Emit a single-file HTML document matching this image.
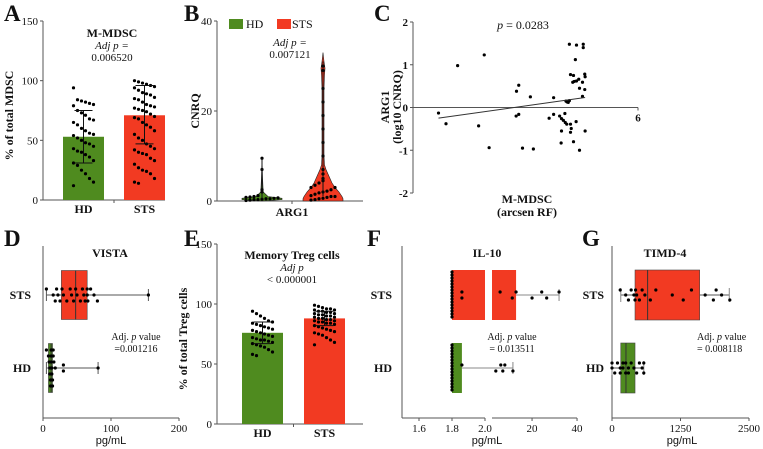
<!DOCTYPE html>
<html><head><meta charset="utf-8">
<style>
html,body{margin:0;padding:0;background:#fff;width:763px;height:449px;overflow:hidden}
svg{display:block;font-family:"Liberation Serif",serif}
.sans{font-family:"Liberation Sans",sans-serif}
</style></head>
<body>
<svg id="fig" width="763" height="449" viewBox="0 0 763 449"></svg>
<script>
// ---------- DATA ----------
const barCats = ['HD','STS'];
const A_means = [53, 71];
const A_errLo = [31, 47];
const A_errHi = [75, 96];
const A_HD = [94,84,83,82,81,80,79,75,73,71,68,67,65,63,60,58,56,55,54,52,50,48,47,45,43,41,40,38,36,33,31,29,25,22,18,15,12];
const A_STS = [100,99,98,97,96,95,94,92,90,89,88,86,85,84,82,80,79,78,77,76,75,74,72,70,69,68,65,63,61,58,55,52,50,47,45,43,42,40,39,38,35,33,30,27,25,24,22,18,15,14];
const A_ticks = [0,50,100,150];

const B_ticks = [0,20,40];
const B_HD_levels = [0,0.3,0.6,1,2,5,9.5];
const B_HD_width = [0,20,20,6,1.2,0.6,0];
const B_STS_levels = [0,0.5,1,2,3,4,5,6,7,8,10,15,20,25,28,29.5,31,33];
const B_STS_width = [20,20,19,16,12,9,7,5,3,1.5,1,1,1,1,1.5,2,1,0];
const B_HD_pts = [0.1,0.2,0.3,0.3,0.4,0.5,0.5,0.6,0.7,0.8,0.9,1,1.2,2,2.5,7,9.5];
const B_STS_pts = [0.2,0.3,0.5,0.6,0.8,1,1,1.2,1.5,1.8,2,2.2,2.5,3,3,3.5,4,4.5,5,6,7,10,13,16,19,22,25,29,30];

const C_x = [0.68,0.88,1.19,1.75,1.90,2.03,2.76,2.82,2.75,2.82,2.92,3.13,3.21,3.63,3.75,3.75,3.91,3.95,3.96,4.01,3.96,4.05,4.06,4.08,4.11,4.14,4.17,4.10,4.20,4.22,4.20,4.28,4.35,4.17,4.20,4.28,4.26,4.30,4.36,4.33,4.36,4.42,4.44,4.44,4.52,4.52,4.54,4.54,4.58,4.59,4.58,4.59];
const C_y = [-0.13,-0.38,0.98,-0.43,1.23,-0.94,0.38,0.52,-0.20,-0.16,-0.95,0.25,-0.97,-0.25,0.23,-0.16,-0.20,-0.83,-0.26,-0.30,-0.55,-0.14,-0.35,0.15,0.13,0.12,0.16,-0.39,-0.39,-0.49,-0.58,-0.80,-0.33,1.48,0.77,0.75,0.59,0.61,1.46,1.12,0.62,0.66,0.45,-1.00,0.59,0.26,1.48,1.40,0.78,0.72,0.42,-0.55];
const C_yticks = [-2,-1,0,1,2];

// box plots: [HD, STS]
const D_q1=[8,27], D_med=[12,48], D_q3=[14,65], D_min=[5,5], D_max=[81,155];
const D_HD=[5,8,9,10,10,11,11,12,12,12,13,13,14,14,15,15,16,18,30,30,81];
const D_STS=[5,15,18,20,22,25,28,30,35,40,42,45,48,50,55,58,60,62,65,65,66,70,75,80,155];
const D_ticks=[0,100,200];

const E_means=[76,88], E_errLo=[67,82], E_errHi=[85,94];
const E_HD=[94,92,90,88,86,85,84,83,82,81,80,79,78,77,76,75,74,73,72,71,70,70,69,68,67,66,65,64,62,60,58,57];
const E_STS=[99,98,97,96,96,95,95,94,94,93,93,92,92,91,91,90,90,89,89,88,88,87,87,86,86,85,85,84,84,83,82,81,80,79,78,77,76,75,74,72,70,68,66];

const F_q1=[1.8,1.8], F_q3=[1.86,12.9], F_max=[11.5,32];
const F_HD=[1.8,1.8,1.8,1.8,1.8,1.8,1.8,1.8,1.8,1.8,1.8,1.8,1.8,1.8,1.8,1.8,1.86,3.9,6.1,7.0,7.9,11.5];
const F_STS=[1.8,1.8,1.8,1.8,1.8,1.8,1.8,1.8,1.8,1.8,1.8,1.8,1.8,1.8,1.8,1.8,1.86,1.86,5.8,11.2,12.9,20,24.3,26.5,32];
const F_ticks1=[1.6,1.8,2.0], F_ticks2=[20,40];

const G_q1=[160,420], G_med=[255,650], G_q3=[420,1600], G_min=[0,160], G_max=[580,2140];
const G_HD=[0,0,50,100,150,150,200,200,250,250,300,300,350,400,450,500,550,580,580];
const G_STS=[150,250,300,350,400,420,430,450,500,550,600,700,800,1100,1300,1450,1700,1850,1900,2000,2150];
const G_ticks=[0,1250,2500];

// ---------- HELPERS ----------
const NS='http://www.w3.org/2000/svg';
const svg=document.getElementById('fig');
const RED='#f23a22', GREEN='#4f8b1f', AX='#555';
function mk(tag,attrs,name,parent){
  const e=document.createElementNS(NS,tag);
  for(const k in attrs) e.setAttribute(k,attrs[k]);
  
  
  (parent||svg).appendChild(e);
  return e;
}
function txt(x,y,s,name,o){
  o=o||{};
  const t=mk('text',{x:x,y:y,'font-size':o.size||11,'text-anchor':o.anchor||'middle','font-weight':o.bold?'bold':'normal','font-style':o.italic?'italic':'normal',fill:'#111'},name);
  if(o.sans) t.setAttribute('class','sans');
  if(o.rot) t.setAttribute('transform','rotate(-90 '+x+' '+y+')');
  t.textContent=s; return t;
}
function line(x1,y1,x2,y2,name,c,w){return mk('line',{x1:x1,y1:y1,x2:x2,y2:y2,stroke:c||AX,'stroke-width':w||1},name);}
function dot(x,y,name){return mk('circle',{cx:x,cy:y,r:1.6,fill:'#000'},name);}
function letter(x,y,s){txt(x,y,s,'panel-label-'+s.toLowerCase(),{size:23,bold:true,anchor:'start'});}

// ---------- BAR PANEL ----------
function barPanel(id,ax,y0,y150,xEnd,centers,means,lo,hi,pts,title,ylab){
  const sy=v=>y0-(v/150)*(y0-y150);
  line(ax,y150,ax,y0,id+'-y-axis');
  line(ax,y0,xEnd,y0,id+'-x-axis');
  line((centers[0]+centers[1])/2,y0,(centers[0]+centers[1])/2,y0+3,id+'-x-tick');
  A_ticks.forEach(t=>{line(ax-3,sy(t),ax,sy(t),id+'-y-tick');txt(ax-5,sy(t)+4,String(t),id+'-y-tick-label',{anchor:'end'});});
  txt(ax-30,(y0+y150)/2+5,ylab,id+'-y-axis-title',{rot:true,bold:true,size:12});
  const cols=[GREEN,RED];
  for(let i=0;i<2;i++){
    const cx=centers[i];
    mk('rect',{x:cx-20.5,y:sy(means[i]),width:41,height:y0-sy(means[i]),fill:cols[i]},id+'-bar-'+barCats[i].toLowerCase());
    pts[i].forEach((v,j)=>{dot(cx+((j%6)-2.5)*4,sy(v),id+'-point');});
    line(cx,sy(lo[i]),cx,sy(hi[i]),id+'-error-bar','#111');
    line(cx-9,sy(lo[i]),cx+9,sy(lo[i]),id+'-error-cap','#111');
    line(cx-9,sy(hi[i]),cx+9,sy(hi[i]),id+'-error-cap','#111');
    txt(cx,y0+13,barCats[i],id+'-x-label-'+barCats[i].toLowerCase(),{bold:true,size:12});
  }
}

// ---------- PANEL A ----------
letter(4,21,'A');
barPanel('a',43,200,21,165,[83.5,144.5],A_means,A_errLo,A_errHi,[A_HD,A_STS],'M-MDSC','% of total MDSC');
txt(112,37,'M-MDSC','a-title',{bold:true,size:12});
txt(112,49,'Adj p =','a-pvalue-label',{italic:true,size:11});
txt(112,61,'0.006520','a-pvalue',{size:11});

// ---------- PANEL B ----------
letter(184,21,'B');
(function(){
  const ax=217,y0=201,yt=21;
  const sy=v=>y0-v/40*(y0-yt);
  line(ax,yt,ax,y0,'b-y-axis');line(ax,y0,363,y0,'b-x-axis');line(292,y0,292,y0+3,'b-x-tick');
  B_ticks.forEach(t=>{line(ax-3,sy(t),ax,sy(t),'b-y-tick');txt(ax-5,sy(t)+4,String(t),'b-y-tick-label',{anchor:'end'});});
  txt(199,111,'CNRQ','b-y-axis-title',{rot:true,bold:true,size:12});
  txt(292,216,'ARG1','b-x-axis-title',{bold:true,size:12});
  function violin(cx,lev,wid,col,name){
    let d='M'+(cx+wid[0])+','+sy(lev[0]);
    for(let i=1;i<lev.length;i++) d+=' L'+(cx+wid[i])+','+sy(lev[i]);
    for(let i=lev.length-1;i>=0;i--) d+=' L'+(cx-wid[i])+','+sy(lev[i]);
    mk('path',{d:d+'Z',fill:col,stroke:'#222','stroke-width':0.6},name);
  }
  violin(262,B_HD_levels,B_HD_width,GREEN,'b-violin-hd');
  violin(323,B_STS_levels,B_STS_width,RED,'b-violin-sts');
  B_HD_pts.forEach((v,j)=>dot(262+(v<1.5?((j%9)-4)*4:0),sy(v),'b-point-hd'));
  B_STS_pts.forEach((v,j)=>dot(323+(v<5?((j%7)-3)*4:0),sy(v),'b-point-sts'));
  line(262,sy(0.5),262,sy(9.5),'b-whisker-hd','#111');
  line(323,sy(1),323,sy(31),'b-whisker-sts','#111');
  mk('rect',{x:229,y:19,width:14,height:10,fill:GREEN},'b-legend-swatch-hd');
  txt(246,28,'HD','b-legend-label-hd',{anchor:'start',size:12});
  mk('rect',{x:277,y:19,width:14,height:10,fill:RED},'b-legend-swatch-sts');
  txt(292,28,'STS','b-legend-label-sts',{anchor:'start',size:12});
  txt(290,46,'Adj p =','b-pvalue-label',{italic:true});
  txt(290,58,'0.007121','b-pvalue');
})();

// ---------- PANEL C ----------
letter(374,21,'C');
(function(){
  const ax=413,yTop=22,yBot=193;
  const sy=v=>yBot-(v+2)/4*(yBot-yTop);
  const sx=v=>ax+v/6*(638-ax);
  line(ax,yTop,ax,yBot,'c-y-axis');line(ax,sy(0),sx(6),sy(0),'c-x-axis');line(sx(6),sy(0),sx(6),sy(0)+3,'c-x-tick');
  txt(sx(6),sy(0)+14,'6','c-x-tick-label',{bold:true});
  C_yticks.forEach(t=>{line(ax-3,sy(t),ax,sy(t),'c-y-tick');txt(ax-5,sy(t)+4,String(t),'c-y-tick-label',{anchor:'end',bold:true});});
  C_x.forEach((v,i)=>dot(sx(v),sy(C_y[i]),'c-point'));
  const n=C_x.length,mx=C_x.reduce((a,b)=>a+b)/n,my=C_y.reduce((a,b)=>a+b)/n;
  let sxy=0,sxx=0;for(let i=0;i<n;i++){sxy+=(C_x[i]-mx)*(C_y[i]-my);sxx+=(C_x[i]-mx)**2;}
  const b=sxy/sxx,a=my-b*mx,x1=Math.min(...C_x),x2=Math.max(...C_x);
  line(sx(x1),sy(a+b*x1),sx(x2),sy(a+b*x2),'c-regression-line','#333');
  const p=txt(523,29,'','c-pvalue',{size:12});
  p.innerHTML='<tspan font-style="italic">p</tspan> = 0.0283';
  txt(389,107,'ARG1','c-y-axis-title',{rot:true,bold:true,size:12});
  txt(401,107,'(log10 CNRQ)','c-y-axis-title-2',{rot:true,bold:true,size:12});
  txt(527,203,'M-MDSC','c-x-axis-title',{bold:true,size:12});
  txt(527,216,'(arcsen RF)','c-x-axis-title-2',{bold:true,size:12});
})();

// ---------- BOX PANEL helper ----------
function rowY(i){return i===0?368:295;}
function boxAxes(id,ax,xEnd){line(ax,246,ax,418,id+'-y-axis');}

// ---------- PANEL D ----------
letter(4,246,'D');
(function(){
  const ax=43,sx=v=>ax+v*0.68;
  boxAxes('d',ax);line(ax,418,sx(200),418,'d-x-axis');
  D_ticks.forEach(t=>{line(sx(t),418,sx(t),421,'d-x-tick');txt(sx(t),432,String(t),'d-x-tick-label');});
  txt(111,444,'pg/mL','d-x-axis-title',{sans:true,size:11});
  txt(110,257,'VISTA','d-title',{bold:true,size:12});
  const cols=[GREEN,RED],pts=[D_HD,D_STS];
  for(let i=0;i<2;i++){
    const y=rowY(i),h=49;
    line(sx(D_min[i]),y,sx(D_max[i]),y,'d-whisker-'+barCats[i].toLowerCase());
    line(sx(D_max[i]),y-6,sx(D_max[i]),y+6,'d-whisker-cap');line(sx(D_min[i]),y-6,sx(D_min[i]),y+6,'d-whisker-cap');
    mk('rect',{x:sx(D_q1[i]),y:y-h/2,width:sx(D_q3[i])-sx(D_q1[i]),height:h,fill:cols[i],stroke:'#444','stroke-width':0.6},'d-box-'+barCats[i].toLowerCase());
    line(sx(D_med[i]),y-h/2,sx(D_med[i]),y+h/2,'d-median','#333');
    pts[i].forEach((v,j)=>{
      let oy;
      if(i===0) oy=(v<=20)?((j%7)-3)*6:((j%2)?-3:3);
      else oy=(v===D_max[i])?0:((j%3)-1)*6;
      if(v===D_max[i]) oy=0;
      dot(sx(v),y+oy,'d-point');
    });
    txt(ax-12,y+4,barCats[i],'d-y-label-'+barCats[i].toLowerCase(),{anchor:'end',bold:true,size:12});
  }
  const t=txt(136,340,'','d-pvalue-label',{size:10});t.innerHTML='Adj. <tspan font-style="italic">p</tspan> value';
  txt(136,352,'=0.001216','d-pvalue',{size:10});
})();

// ---------- PANEL E ----------
letter(184,246,'E');
barPanel('e',217,424,244,363,[262.5,324.5],E_means,E_errLo,E_errHi,[E_HD,E_STS],'','% of total Treg cells');
txt(292,259,'Memory Treg cells','e-title',{bold:true,size:12});
txt(292,271,'Adj p','e-pvalue-label',{italic:true});
txt(292,283,'< 0.000001','e-pvalue');

// ---------- PANEL F ----------
letter(367,246,'F');
(function(){
  const ax=402;
  const sx=v=>v<=2.0?402.5+(v-1.5)*165:Math.max(492,492+(v-2.2)*2.25);
  boxAxes('f',ax);line(ax,418,485,418,'f-x-axis-segment-1');line(492,418,577,418,'f-x-axis-segment-2');
  F_ticks1.forEach(t=>{line(sx(t),418,sx(t),421,'f-x-tick');txt(sx(t),432,t.toFixed(1),'f-x-tick-label');});
  F_ticks2.forEach(t=>{line(sx(t),418,sx(t),421,'f-x-tick');txt(sx(t),432,String(t),'f-x-tick-label');});
  txt(487,444,'pg/mL','f-x-axis-title',{sans:true});
  txt(487,257,'IL-10','f-title',{bold:true,size:12});
  const cols=[GREEN,RED],pts=[F_HD,F_STS];
  for(let i=0;i<2;i++){
    const y=rowY(i),h=50,nm=barCats[i].toLowerCase();
    line(sx(F_q3[i]),y,sx(F_max[i]),y,'f-whisker-'+nm,'#888');
    line(sx(F_max[i]),y-6,sx(F_max[i]),y+6,'f-whisker-cap','#888');
    if(F_q3[i]<=2.0){
      mk('rect',{x:sx(F_q1[i]),y:y-h/2,width:sx(F_q3[i])-sx(F_q1[i]),height:h,fill:cols[i]},'f-box-'+nm);
    } else {
      mk('rect',{x:sx(F_q1[i]),y:y-h/2,width:485-sx(F_q1[i]),height:h,fill:cols[i]},'f-box-'+nm);
      mk('rect',{x:492,y:y-h/2,width:sx(F_q3[i])-492,height:h,fill:cols[i]},'f-box-'+nm+'-part-2');
    }
    let k=0;
    pts[i].forEach((v,j)=>{
      let oy;
      if(v===1.8){oy=-23+k*3;k++;} else oy=((j%2)-0.5)*6;
      dot(sx(v),y+oy,'f-point');
    });
    txt(392,y+4,barCats[i],'f-y-label-'+nm,{anchor:'end',bold:true,size:12});
  }
  const t=txt(512,340,'','f-pvalue-label',{size:10});t.innerHTML='Adj. <tspan font-style="italic">p</tspan> value';
  txt(512,352,'= 0.013511','f-pvalue',{size:10});
})();

// ---------- PANEL G ----------
letter(582,246,'G');
(function(){
  const ax=612,sx=v=>ax+v*(749-612)/2500;
  boxAxes('g',ax);line(ax,418,749,418,'g-x-axis');
  G_ticks.forEach(t=>{line(sx(t),418,sx(t),421,'g-x-tick');txt(sx(t),432,String(t),'g-x-tick-label');});
  txt(682,444,'pg/mL','g-x-axis-title',{sans:true});
  txt(665,257,'TIMD-4','g-title',{bold:true,size:12});
  const cols=[GREEN,RED],pts=[G_HD,G_STS];
  for(let i=0;i<2;i++){
    const y=rowY(i),h=50,nm=barCats[i].toLowerCase();
    line(sx(G_min[i]),y,sx(G_max[i]),y,'g-whisker-'+nm);
    line(sx(G_max[i]),y-7,sx(G_max[i]),y+7,'g-whisker-cap','#888');line(sx(G_min[i]),y-7,sx(G_min[i]),y+7,'g-whisker-cap','#888');
    mk('rect',{x:sx(G_q1[i]),y:y-h/2,width:sx(G_q3[i])-sx(G_q1[i]),height:h,fill:cols[i],stroke:'#444','stroke-width':0.6},'g-box-'+nm);
    line(sx(G_med[i]),y-h/2,sx(G_med[i]),y+h/2,'g-median','#333');
    pts[i].forEach((v,j)=>dot(sx(v),y+((j%3)-1)*5,'g-point'));
    txt(604,y+4,barCats[i],'g-y-label-'+nm,{anchor:'end',bold:true,size:12});
  }
  const t=txt(697,340,'','g-pvalue-label',{size:10,anchor:'start'});t.innerHTML='Adj. <tspan font-style="italic">p</tspan> value';
  txt(697,352,'= 0.008118','g-pvalue',{size:10,anchor:'start'});
})();
</script>
</body></html>
